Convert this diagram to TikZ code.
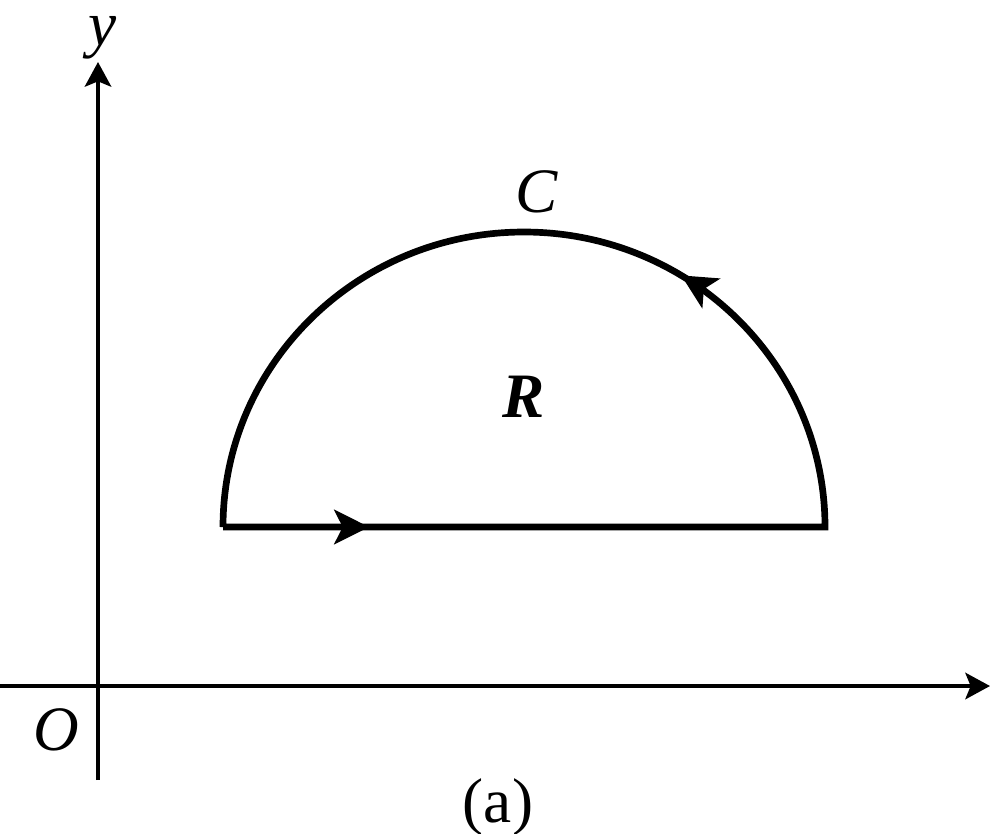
\documentclass[tikz,border=0pt]{standalone}
\usepackage{fontspec}
\setmainfont{Liberation Serif}
\usetikzlibrary{arrows.meta,decorations.markings}
\begin{document}
\begin{tikzpicture}[x=1cm,y=1cm,
  axis/.style={line width=1.2pt,-{Stealth[length=7pt,width=7.5pt,inset=1.5pt]}},
  contour/.style={line width=1.9pt,line join=miter},
  lbl/.style={font=\fontsize{18}{20}\selectfont,anchor=base,inner sep=0pt}
]
\useasboundingbox (0,0) rectangle (9.91,8.33);
\coordinate (ybot) at (0.98,0.53);
\coordinate (ytop) at (0.98,7.71);
\coordinate (xleft) at (0,1.47);
\coordinate (xright) at (9.90,1.47);
\draw[axis] (ybot) -- (ytop);
\draw[axis] (xleft) -- (xright);
\coordinate (A) at (2.23,3.06);
\coordinate (B) at (8.25,3.06);
\draw[contour,postaction={decorate},decoration={markings,
   mark=at position 1.46cm with {\arrow[line width=0.4pt]{Stealth[length=10pt,width=10pt,inset=2.5pt]}},
   mark=at position 9.05cm with {\arrow[line width=0.4pt]{Stealth[length=10pt,width=10pt,inset=2.5pt]}}}]
  (A) -- (B) arc[start angle=0,end angle=180,x radius=3.01,y radius=2.95] -- cycle;
\node[lbl] (ylab) at (1.03,7.88) {\textit{y}};
\node[lbl] (olab) at (0.56,0.83) {\textit{O}};
\node[lbl] (clab) at (5.37,6.21) {\textit{C}};
\node[lbl] (rlab) at (5.24,4.16) {\textbf{\textit{R}}};
\node[lbl] (alab) at (4.98,0.11) {(a)};
\end{tikzpicture}
\end{document}
